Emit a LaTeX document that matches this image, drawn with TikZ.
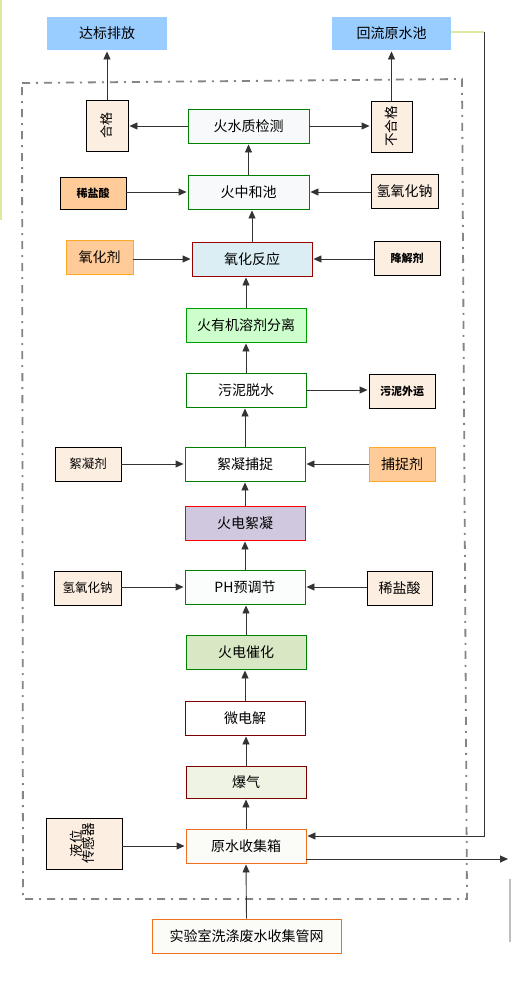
\documentclass[tikz,border=0pt]{standalone}
\usepackage{fontspec}
\setmainfont{Noto Sans CJK SC}
\usepackage{graphicx}
\usetikzlibrary{arrows.meta,calc}
\definecolor{skyblue}{HTML}{99CCFF}
\definecolor{peach}{HTML}{FDEEE2}
\definecolor{orfill}{HTML}{FFCC99}
\definecolor{ordraw}{HTML}{FFA726}
\definecolor{gborder}{HTML}{008000}
\definecolor{drred}{HTML}{990000}
\definecolor{paleg}{HTML}{F8F9FA}
\definecolor{oxfill}{HTML}{DAEEF3}
\definecolor{orgfill}{HTML}{CCFFCC}
\definecolor{orgdraw}{HTML}{00A000}
\definecolor{purfill}{HTML}{D0C8DE}
\definecolor{catfill}{HTML}{D9E8C4}
\definecolor{aerfill}{HTML}{EEF3E4}
\definecolor{rawfill}{HTML}{FBFCF8}
\definecolor{rawdraw}{HTML}{F07020}
\definecolor{ylgreen}{HTML}{DDE8A0}
\definecolor{framegray}{HTML}{858585}
\begin{document}
\begin{tikzpicture}[x=1pt,y=-1pt,
  box/.style={draw, line width=0.9pt, inner sep=0pt, minimum width=120pt, minimum height=34pt,
    font=\fontsize{14pt}{16pt}\selectfont, text=black},
  gbox/.style={box, draw=gborder, fill=paleg},
  sidebox/.style={box, draw=black, fill=peach, minimum width=66pt},
  orbox/.style={box, draw=ordraw, fill=orfill, minimum width=66pt},
  smallt/.style={font=\fontsize{11pt}{13pt}\selectfont\bfseries},
  midt/.style={font=\fontsize{12.5pt}{14pt}\selectfont},
  bluebox/.style={box, draw=none, fill=skyblue},
  arr/.style={draw=black!80, line width=0.9pt, -{Triangle[length=8pt,width=7pt]}, shorten >=1pt},
]
\useasboundingbox (0,0) rectangle (512,985);
\fill[white] (0,0) rectangle (512,985);

% edge decorations
\draw[ylgreen, line width=1.5pt] (1,0) -- (1,220);
\draw[black!25, line width=2pt] (510,879) -- (510,942);

% dash-dot frame
\draw[framegray, line width=1.8pt, dash pattern=on 8pt off 6pt on 2pt off 6pt]
  (22,83) -- (462,79) -- (467,899) -- (23,899) -- cycle;

% top outputs
\node[bluebox, minimum height=33pt] (dabiao) at (107,33.5) {达标排放};
\node[bluebox, minimum width=119pt, minimum height=33pt] (huiliu) at (391.5,33.5) {回流原水池};

% quality check row
\node[sidebox, minimum width=42pt, minimum height=51pt, font=\fontsize{13pt}{14pt}\selectfont] (hege) at (107,125.5) {\rotatebox{90}{合格}};
\node[sidebox, minimum width=41pt, minimum height=51pt, font=\fontsize{13.5pt}{14pt}\selectfont] (buhege) at (391.5,126.5) {\rotatebox{90}{不合格}};
\node[gbox, minimum width=121pt] (jiance) at (248.5,126) {火水质检测};

% neutralization row
\node[gbox, minimum width=121pt] (zhonghe) at (248.5,192) {火中和池};
\node[orbox, draw=black, minimum height=32pt, smallt] (hcl1) at (93,193) {稀盐酸};
\node[sidebox, minimum width=67pt] (naoh1) at (404.5,191) {氢氧化钠};

% oxidation row
\node[box, draw=drred, fill=oxfill] (yanghua) at (252,259) {氧化反应};
\node[orbox, minimum width=67pt] (yanghuaji) at (99.5,257) {氧化剂};
\node[sidebox, smallt] (jiangjie) at (407,258) {降解剂};

% organic solvent separation
\node[box, draw=orgdraw, fill=orgfill] (youji) at (246,325) {火有机溶剂分离};

% sludge dewatering
\node[gbox, fill=white] (tuoshui) at (246,390) {污泥脱水};
\node[sidebox, smallt] (waiyun) at (402,391) {污泥外运};

% flocculation capture
\node[gbox, fill=white] (buzhuo) at (245,464) {絮凝捕捉};
\node[sidebox, midt] (xuningji) at (88,464) {絮凝剂};
\node[orbox] (buzhuoji) at (402,464) {捕捉剂};

% electro-flocculation
\node[box, draw=red, fill=purfill] (dianxu) at (245,523) {火电絮凝};

% PH adjustment
\node[gbox, fill=white!50!paleg] (ph) at (245,587) {PH预调节};
\node[sidebox, minimum width=67pt, midt] (naoh2) at (87.5,588) {氢氧化钠};
\node[sidebox, minimum width=65pt] (hcl2) at (399.5,588) {稀盐酸};

% electro-catalysis
\node[box, draw=gborder, fill=catfill] (cuihua) at (246,652) {火电催化};

% micro-electrolysis
\node[box, draw=drred!80!black, fill=white] (weidian) at (245,718) {微电解};

% aeration
\node[box, draw=drred!80!black, fill=aerfill, minimum height=32pt] (baoqi) at (246,782) {爆气};

% raw water tank
\node[box, draw=rawdraw, fill=rawfill] (yuanshui) at (246,846) {原水收集箱};
\node[sidebox, minimum width=76pt, minimum height=51pt] (yewei) at (84,843.5)
  {\rotatebox{90}{\fontsize{13.5pt}{15pt}\selectfont\begin{tabular}{@{}c@{}}液位\\[-3pt]传感器\end{tabular}}};

% collection network
\node[box, draw=rawdraw, fill=rawfill, minimum width=189pt] (guanwang) at (246.5,936) {实验室洗涤废水收集管网};

% free-end coordinates
\coordinate (r1) at (484,32);
\coordinate (r2) at (484,836);
\coordinate (outp) at (509,859);

% main vertical flow
\draw[arr] (guanwang.north) -- (yuanshui.south);
\draw[arr] (yuanshui.north) -- (yuanshui.north |- baoqi.south);
\draw[arr] (baoqi.north) -- (baoqi.north |- weidian.south);
\draw[arr] (weidian.north) -- (weidian.north |- cuihua.south);
\draw[arr] (cuihua.north) -- (cuihua.north |- ph.south);
\draw[arr] (ph.north) -- (ph.north |- dianxu.south);
\draw[arr] (dianxu.north) -- (dianxu.north |- buzhuo.south);
\draw[arr] (buzhuo.north) -- (buzhuo.north |- tuoshui.south);
\draw[arr] (tuoshui.north) -- (tuoshui.north |- youji.south);
\draw[arr] (youji.north) -- (youji.north |- yanghua.south);
\draw[arr] (yanghua.north) -- (yanghua.north |- zhonghe.south);
\draw[arr] (zhonghe.north) -- (zhonghe.north |- jiance.south);
\draw[arr] (hege.north) -- (hege.north |- dabiao.south);
\draw[arr] (buhege.north) -- (buhege.north |- huiliu.south);

% horizontal flows
\draw[arr] (jiance.west) -- (hege.east |- jiance.west);
\draw[arr] (jiance.east) -- (buhege.west |- jiance.east);
\draw[arr] (hcl1.east |- zhonghe.west) -- (zhonghe.west);
\draw[arr] (naoh1.west |- zhonghe.east) -- (zhonghe.east);
\draw[arr] (yanghuaji.east |- yanghua.west) -- (yanghua.west);
\draw[arr] (jiangjie.west |- yanghua.east) -- (yanghua.east);
\draw[arr] (tuoshui.east) -- (waiyun.west |- tuoshui.east);
\draw[arr] (xuningji.east) -- (buzhuo.west);
\draw[arr] (buzhuoji.west) -- (buzhuo.east);
\draw[arr] (naoh2.east |- ph.west) -- (ph.west);
\draw[arr] (hcl2.west |- ph.east) -- (ph.east);
\draw[arr] (yewei.east |- yuanshui.west) -- (yuanshui.west);

% return loop and outlet
\draw[ylgreen, line width=1.2pt] (huiliu.east |- r1) -- (r1);
\draw[arr] (r1) -- (r2) -- (yuanshui.east |- r2);
\draw[arr] ($(yuanshui.east)+(0,13)$) -- (outp);
\end{tikzpicture}
\end{document}
